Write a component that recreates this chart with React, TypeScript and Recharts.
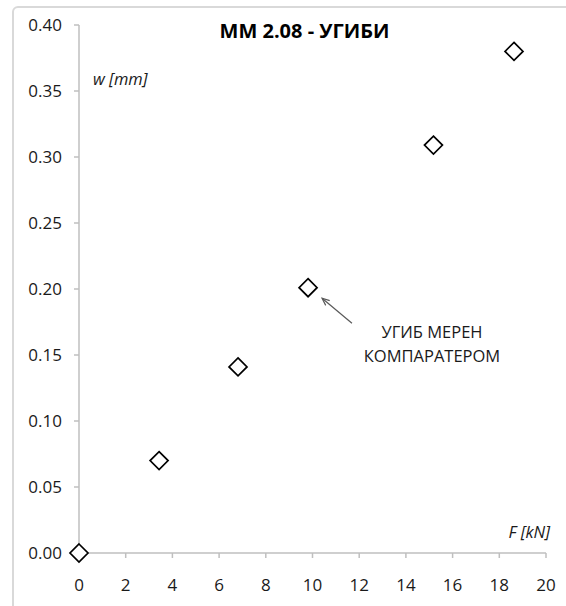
import { ScatterChart, Scatter, XAxis, YAxis, ReferenceLine } from "recharts";

// F [kN] vs w [mm]
const forceKN = [0, 3.43, 6.81, 9.81, 15.18, 18.63];
const deflectionMM = [0, 0.07, 0.141, 0.201, 0.309, 0.38];

const xTicks = [0, 2, 4, 6, 8, 10, 12, 14, 16, 18, 20];
const yTicks = [0, 0.05, 0.1, 0.15, 0.2, 0.25, 0.3, 0.35, 0.4];

// annotation arrow, in data units
const arrowFrom = { x: 11.69, y: 0.174 };
const arrowTo = { x: 10.41, y: 0.193 };

const FONT = "'Open Sans', sans-serif";
const AXIS = "#bfbfbf";
const TEXT = "#1a1a1a";

const data = forceKN.map((f, i) => ({ f, w: deflectionMM[i] }));

const Diamond = (props: any) => {
  const { cx, cy } = props;
  const r = 9;
  return (
    <path
      d={`M${cx},${cy - r} L${cx + r},${cy} L${cx},${cy + r} L${cx - r},${cy} Z`}
      fill="#fff"
      stroke="#000"
      strokeWidth={1.7}
    />
  );
};

const Arrow = (props: any) => {
  const { x1, y1, x2, y2 } = props;
  const ang = Math.atan2(y2 - y1, x2 - x1);
  const len = 8;
  const a1 = ang + Math.PI - 0.4;
  const a2 = ang + Math.PI + 0.4;
  return (
    <g stroke="#595959" strokeWidth={1.2} fill="none">
      <line x1={x1} y1={y1} x2={x2} y2={y2} />
      <polyline
        points={`${x2 + len * Math.cos(a1)},${y2 + len * Math.sin(a1)} ${x2},${y2} ${x2 + len * Math.cos(a2)},${y2 + len * Math.sin(a2)}`}
      />
    </g>
  );
};

export default function App() {
  const tick = { fill: TEXT, fontSize: 17, fontFamily: FONT };
  return (
    <div style={{ position: "fixed", left: 0, top: 0, width: 566, height: 606, overflow: "hidden", background: "#fff" }}>
      <div
        style={{
          position: "absolute",
          left: 12,
          top: 6,
          width: 700,
          height: 800,
          border: "2px solid #d9d9d9",
          borderRadius: 6,
        }}
      />
      <div style={{ position: "absolute", left: 0, top: 0 }}>
        <ScatterChart width={566} height={606} margin={{ top: 25, right: 20, bottom: 0, left: 0 }}>
          <XAxis
            type="number"
            dataKey="f"
            domain={[0, 20]}
            ticks={xTicks}
            height={53}
            tick={tick}
            tickSize={5}
            tickMargin={21}
            axisLine={{ stroke: AXIS, strokeWidth: 1.5 }}
            tickLine={{ stroke: AXIS, strokeWidth: 1.5 }}
          />
          <YAxis
            type="number"
            dataKey="w"
            domain={[0, 0.4]}
            ticks={yTicks}
            width={79}
            tick={tick}
            tickSize={5}
            tickMargin={12}
            tickFormatter={(v: number) => v.toFixed(2)}
            axisLine={{ stroke: AXIS, strokeWidth: 1.5 }}
            tickLine={{ stroke: AXIS, strokeWidth: 1.5 }}
          />
          <ReferenceLine segment={[arrowFrom, arrowTo]} shape={Arrow} ifOverflow="visible" />
          <Scatter data={data} shape={Diamond} isAnimationActive={false} />
        </ScatterChart>
      </div>
      <svg width={566} height={606} style={{ position: "absolute", left: 0, top: 0, pointerEvents: "none" }}>
        <text x={304.5} y={38} textAnchor="middle" fontFamily={FONT} fontWeight="bold" fontSize={20} fill="#000">
          MM 2.08 - УГИБИ
        </text>
        <text x={93} y={85} fontFamily={FONT} fontStyle="italic" fontSize={16.5} fill={TEXT}>
          w [mm]
        </text>
        <text x={550} y={538} textAnchor="end" fontFamily={FONT} fontStyle="italic" fontSize={16.5} fill={TEXT}>
          F [kN]
        </text>
        <text x={432} y={338} textAnchor="middle" fontFamily={FONT} fontSize={16.5} fill={TEXT}>
          УГИБ МЕРЕН
        </text>
        <text x={432} y={362} textAnchor="middle" fontFamily={FONT} fontSize={16.5} fill={TEXT}>
          КОМПАРАТЕРОМ
        </text>
      </svg>
    </div>
  );
}
